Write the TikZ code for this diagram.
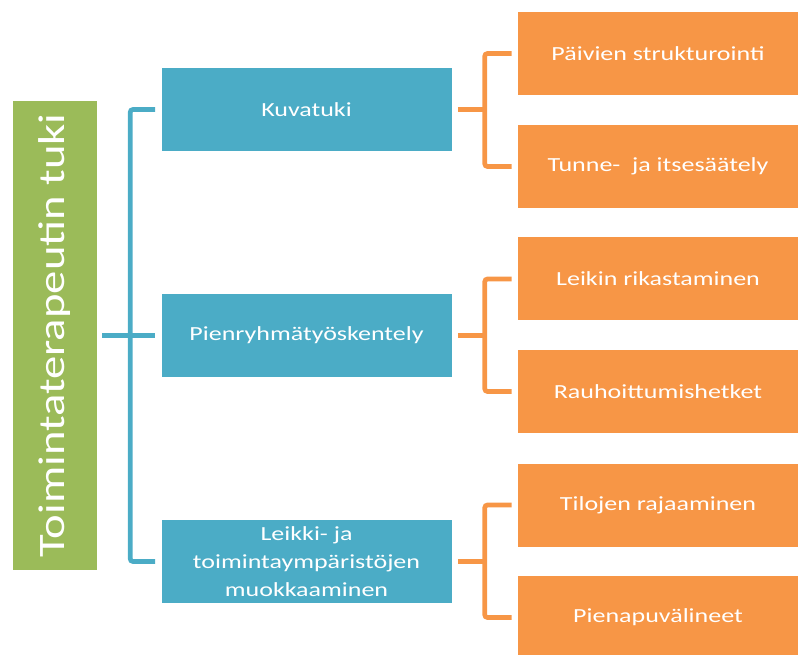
\documentclass[tikz,border=0pt]{standalone}
\usepackage{fontspec}
\setmainfont[FakeStretch=1.3]{Carlito}
\newfontfamily\rootfont[FakeStretch=1.25]{Carlito}
\usetikzlibrary{positioning,calc}
\definecolor{rootgreen}{HTML}{9BBB59}
\definecolor{mainblue}{HTML}{4BACC6}
\definecolor{suborange}{HTML}{F79646}

\begin{document}
\begin{tikzpicture}[
    x=0.75pt, y=-0.75pt,
    rootnode/.style={
        rectangle, fill=rootgreen, text=white, inner sep=0pt,
        minimum width=63pt, minimum height=351.75pt
      },
    mainnode/.style={
        rectangle, fill=mainblue, text=white, inner sep=0pt, align=center,
        minimum width=217.5pt, minimum height=62.25pt,
        font=\fontsize{15}{21}\selectfont
      },
    subnode/.style={
        rectangle, fill=suborange, text=white, inner sep=0pt,
        minimum width=210pt, minimum height=62.25pt,
        font=\fontsize{15}{21}\selectfont
      },
    bluelink/.style={
        draw=mainblue, line width=3.5pt, rounded corners=2pt
      },
    orangelink/.style={
        draw=suborange, line width=3.5pt, rounded corners=2pt
      },
  ]
  \useasboundingbox (0,0) rectangle (798,655);

  \node[rootnode](root) at (55,335.5)
    {\rotatebox{90}{\rootfont\fontsize{28}{30}\selectfont Toimintaterapeutin tuki}};

  \node[mainnode](kuva) at (306.5,109.5) {Kuvatuki};
  \node[mainnode](pien) at (306.5,335.5) {Pienryhmätyöskentely};
  \node[mainnode](leikki) at (306.5,561.5)
    {Leikki- ja\\toimintaympäristöjen\\muokkaaminen};

  \node[subnode](paiv) at (658,53.5) {Päivien strukturointi};
  \node[subnode](tunne) at (658,166.5) {Tunne-\ \ ja itsesäätely};
  \node[subnode](rikas) at (658,279) {Leikin rikastaminen};
  \node[subnode](rauh) at (658,391.5) {Rauhoittumishetket};
  \node[subnode](tilo) at (658,505) {Tilojen rajaaminen};
  \node[subnode](apu) at (658,617.5) {Pienapuvälineet};

  % root to the three main boxes
  \coordinate (bus) at ($(root.east)+(33,0)$);
  \draw[bluelink] ([xshift=3.75pt]root.east) -- ([xshift=-4.5pt]pien.west);
  \draw[bluelink] ([xshift=-4.5pt]kuva.west) -| (bus) |- ([xshift=-4.5pt]leikki.west);

  % main boxes to their sub boxes
  \foreach \m/\a/\b in {kuva/paiv/tunne, pien/rikas/rauh, leikki/tilo/apu} {
    \coordinate (fork) at ($(\m.east)+(33,0)$);
    \draw[orangelink] ([xshift=4.5pt]\m.east) -- (fork);
    \draw[orangelink] ([xshift=-4.5pt]\a.west) -| (fork) |- ([xshift=-4.5pt]\b.west);
  }
\end{tikzpicture}
\end{document}
